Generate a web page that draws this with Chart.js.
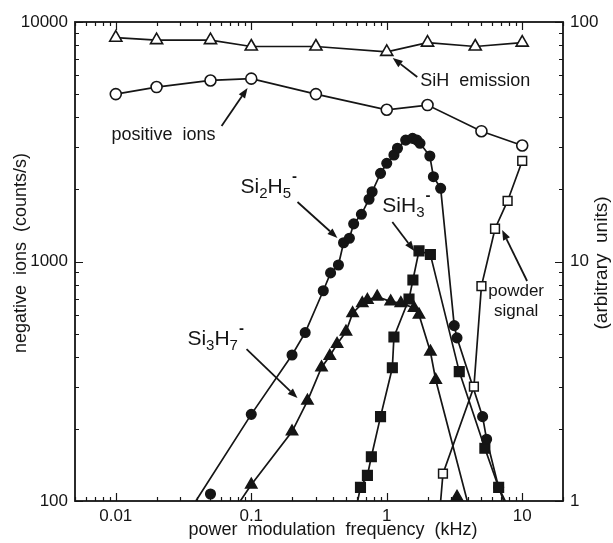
<!DOCTYPE html>
<html>
<head>
<meta charset="utf-8">
<script src="https://cdn.jsdelivr.net/npm/chart.js@4.4.0/dist/chart.umd.min.js"></script>
<style>
  html, body { margin: 0; padding: 0; background: #fff; }
</style>
</head>
<body>
<canvas id="modChart" width="613" height="543"></canvas>
<script>
// Signals vs. power modulation frequency (kHz), log-log

// SiH emission, arbitrary units (right axis)
const sihFreq = [0.01, 0.02, 0.05, 0.1, 0.3, 1, 2, 4.5, 10];
const sihEmission = [86, 84, 84, 79, 79, 75, 82, 79, 82];

// positive ions, arbitrary units (right axis)
const posFreq = [0.01, 0.02, 0.05, 0.1, 0.3, 1, 2, 5, 10];
const positiveIons = [50, 53.5, 57, 58, 50, 43, 45, 35, 30.5];

// Si2H5- negative ions, counts/s
const si2h5Freq = [0.05, 0.1, 0.2, 0.25, 0.34, 0.385, 0.44, 0.48, 0.53, 0.57, 0.65, 0.74, 0.78, 0.9, 1.0,
  1.13, 1.2, 1.38, 1.55, 1.67, 1.76, 2.08, 2.21, 2.5, 3.15, 3.3, 5.1, 5.46, 6.7];
const si2h5Counts = [107, 230, 407, 505, 755, 896, 967, 1198, 1250, 1436, 1574, 1820, 1955, 2334, 2570,
  2785, 2970, 3213, 3265, 3213, 3115, 2757, 2260, 2021, 540, 480, 225, 181, 114];
const si2h5Ends = [[0.039, 100], [7.5, 100]];

// Si3H7- negative ions, counts/s
const si3h7Freq = [0.1, 0.2, 0.26, 0.33, 0.38, 0.43, 0.5, 0.56, 0.66, 0.72, 0.85, 1.07, 1.27, 1.59, 1.73, 2.1, 2.3, 3.3];
const si3h7Counts = [117, 195, 262, 361, 403, 452, 509, 608, 669, 690, 713, 680, 670, 640, 600, 420, 320, 104];
const si3h7Ends = [[0.083, 100], [3.93, 100]];

// SiH3- negative ions, counts/s
const sih3Freq = [0.64, 0.72, 0.77, 0.9, 1.1, 1.13, 1.46, 1.56, 1.73, 2.1, 3.43, 5.3, 6.7];
const sih3Counts = [114, 128, 153, 225, 360, 484, 697, 837, 1107, 1069, 347, 166, 114];
const sih3Ends = [[0.61, 100], [7.3, 100]];

// powder signal, arbitrary units (right axis)
const powderFreq = [2.6, 4.4, 5, 6.3, 7.8, 10];
const powderSignal = [1.3, 3.0, 7.9, 13.7, 17.9, 26.3];
const powderStart = [2.5, 1];

const INK = '#151515';
const FONT = '"Liberation Sans", Arial, Helvetica, sans-serif';

const pairs = (xs, ys) => xs.map((x, i) => ({ x, y: ys[i] }));
const pt = p => ({ x: p[0], y: p[1] });
const isDecade = v => Math.abs(Math.log10(v) - Math.round(Math.log10(v))) < 1e-6;

function logTicks(min, max) {
  const out = [];
  for (let e = Math.floor(Math.log10(min)); e <= Math.ceil(Math.log10(max)); e++) {
    for (let m = 1; m <= 9; m++) {
      const v = +(m * Math.pow(10, e)).toPrecision(3);
      if (v >= min * 0.999 && v <= max * 1.001) out.push({ value: v });
    }
  }
  return out;
}

const markerBase = {
  showLine: false,
  pointBorderColor: INK,
  pointBorderWidth: 1.5
};
const lineBase = {
  showLine: true,
  pointRadius: 0,
  borderColor: INK,
  borderWidth: 1.7,
  order: 2
};

const datasets = [
  // open markers joined point to point
  { data: pairs(sihFreq, sihEmission), yAxisID: 'y2', showLine: true, borderColor: INK, borderWidth: 1.7,
    pointStyle: 'triangle', pointRadius: 7, pointBackgroundColor: '#fff', pointBorderColor: INK, pointBorderWidth: 1.6, order: 1 },
  { data: pairs(posFreq, positiveIons), yAxisID: 'y2', showLine: true, borderColor: INK, borderWidth: 1.7,
    pointStyle: 'circle', pointRadius: 5.5, pointBackgroundColor: '#fff', pointBorderColor: INK, pointBorderWidth: 1.6, order: 1 },

  // negative ion markers
  { ...markerBase, data: pairs(si2h5Freq, si2h5Counts), yAxisID: 'y', pointStyle: 'circle', pointRadius: 4.8, pointBackgroundColor: INK, order: 1 },
  { ...markerBase, data: pairs(si3h7Freq, si3h7Counts), yAxisID: 'y', pointStyle: 'triangle', pointRadius: 6.5, pointBackgroundColor: INK, order: 1 },
  { ...markerBase, data: pairs(sih3Freq, sih3Counts), yAxisID: 'y', pointStyle: 'rect', pointRadius: 6.8, pointBackgroundColor: INK, order: 1 },
  { ...markerBase, data: pairs(powderFreq, powderSignal), yAxisID: 'y2', pointStyle: 'rect', pointRadius: 6.2, pointBackgroundColor: '#fff', order: 0 },

  // drawn curves
  { ...lineBase, yAxisID: 'y',
    data: [pt(si2h5Ends[0]), ...pairs(si2h5Freq.slice(1), si2h5Counts.slice(1)), pt(si2h5Ends[1])] },
  { ...lineBase, yAxisID: 'y',
    data: [pt(si3h7Ends[0]), ...pairs(si3h7Freq.slice(0, -1), si3h7Counts.slice(0, -1)), pt(si3h7Ends[1])] },
  { ...lineBase, yAxisID: 'y',
    data: [pt(sih3Ends[0]), ...pairs(sih3Freq, sih3Counts), pt(sih3Ends[1])] },
  { ...lineBase, yAxisID: 'y2',
    data: [pt(powderStart), ...pairs(powderFreq, powderSignal)] }
];

// labels and arrows, placed in (kHz, counts/s) coordinates
const textNotes = [
  { text: 'SiH  emission', at: [1.77, 5673], align: 'left', size: 18 },
  { text: 'positive  ions', at: [0.0545, 3374], align: 'right', size: 18 },
  { text: 'powder', at: [9.02, 753], align: 'center', size: 17 },
  { text: 'signal', at: [9.02, 621], align: 'center', size: 17 }
];
const formulaNotes = [
  { parts: [['Si', 0], ['2', 1], ['H', 0], ['5', 1], ['-', 2]], at: [0.0834, 1932] },
  { parts: [['SiH', 0], ['3', 1], ['-', 2]], at: [0.928, 1609] },
  { parts: [['Si', 0], ['3', 1], ['H', 0], ['7', 1], ['-', 2]], at: [0.0338, 448] }
];
const arrowNotes = [
  [[1.68, 5893], [1.107, 7074]],
  [[0.0604, 3680], [0.0939, 5301]],
  [[0.2194, 1772], [0.4325, 1254]],
  [[1.0998, 1462], [1.597, 1106]],
  [[0.0923, 431], [0.2194, 269]],
  [[10.86, 829], [7.11, 1353]]
];

const tickFont = { family: FONT, size: 17 };

const frameTicks = {
  id: 'frameTicks',
  beforeDatasetsDraw(chart) {
    const { ctx, chartArea: a, scales } = chart;
    ctx.save();
    ctx.strokeStyle = INK;
    ctx.lineWidth = 1.2;
    ctx.beginPath();
    scales.x.ticks.forEach(t => {
      const px = Math.round(scales.x.getPixelForValue(t.value)) + 0.5;
      const len = isDecade(t.value) ? 8 : 4;
      ctx.moveTo(px, a.bottom); ctx.lineTo(px, a.bottom - len);
      ctx.moveTo(px, a.top); ctx.lineTo(px, a.top + len);
    });
    scales.y.ticks.forEach(t => {
      const py = Math.round(scales.y.getPixelForValue(t.value)) + 0.5;
      const len = isDecade(t.value) ? 8 : 4;
      ctx.moveTo(a.left, py); ctx.lineTo(a.left + len, py);
    });
    scales.y2.ticks.forEach(t => {
      const py = Math.round(scales.y2.getPixelForValue(t.value)) + 0.5;
      const len = isDecade(t.value) ? 8 : 4;
      ctx.moveTo(a.right, py); ctx.lineTo(a.right - len, py);
    });
    ctx.stroke();
    ctx.lineWidth = 1.8;
    ctx.strokeRect(a.left, a.top, a.right - a.left, a.bottom - a.top);
    ctx.restore();
  },
  afterDraw(chart) {
    const { ctx, scales } = chart;
    const toPx = p => [scales.x.getPixelForValue(p[0]), scales.y.getPixelForValue(p[1])];
    ctx.save();
    ctx.fillStyle = INK;
    ctx.strokeStyle = INK;

    // axis titles
    ctx.font = `18px ${FONT}`;
    ctx.textAlign = 'center';
    ctx.textBaseline = 'middle';
    ctx.fillText('power  modulation  frequency  (kHz)', 333, 530);
    ctx.save();
    ctx.translate(21, 253);
    ctx.rotate(-Math.PI / 2);
    ctx.fillText('negative  ions  (counts/s)', 0, 0);
    ctx.restore();
    ctx.save();
    ctx.font = `19px ${FONT}`;
    ctx.translate(602, 263);
    ctx.rotate(-Math.PI / 2);
    ctx.fillText('(arbitrary  units)', 0, 0);
    ctx.restore();

    // plain labels
    textNotes.forEach(n => {
      const [x, y] = toPx(n.at);
      ctx.font = `${n.size}px ${FONT}`;
      ctx.textAlign = n.align;
      ctx.textBaseline = 'middle';
      ctx.fillText(n.text, x, y);
    });

    // ion formulas with sub/superscripts
    ctx.textAlign = 'left';
    ctx.textBaseline = 'alphabetic';
    formulaNotes.forEach(n => {
      let [x, y] = toPx(n.at);
      n.parts.forEach(([s, kind]) => {
        if (kind === 0) {
          ctx.font = `21px ${FONT}`;
          ctx.fillText(s, x, y);
        } else if (kind === 1) {
          ctx.font = `15px ${FONT}`;
          ctx.fillText(s, x, y + 5);
        } else {
          ctx.font = `bold 15px ${FONT}`;
          ctx.fillText(s, x + 1, y - 12);
        }
        x += ctx.measureText(s).width;
      });
    });

    // arrows
    ctx.lineWidth = 1.8;
    arrowNotes.forEach(([from, to]) => {
      const [x0, y0] = toPx(from);
      const [x1, y1] = toPx(to);
      const ang = Math.atan2(y1 - y0, x1 - x0);
      const head = 10, half = 3.8;
      const bx = x1 - head * Math.cos(ang), by = y1 - head * Math.sin(ang);
      ctx.beginPath();
      ctx.moveTo(x0, y0);
      ctx.lineTo(bx, by);
      ctx.stroke();
      ctx.beginPath();
      ctx.moveTo(x1, y1);
      ctx.lineTo(bx + half * Math.sin(ang), by - half * Math.cos(ang));
      ctx.lineTo(bx - half * Math.sin(ang), by + half * Math.cos(ang));
      ctx.closePath();
      ctx.fill();
    });
    ctx.restore();
  }
};

const logAxis = (min, max, position, fit) => ({
  type: 'logarithmic',
  position,
  min,
  max,
  grid: { display: false, drawTicks: false },
  border: { display: false },
  ticks: {
    autoSkip: false,
    maxRotation: 0,
    font: tickFont,
    color: INK,
    padding: position === 'bottom' ? 5 : 7,
    callback: v => (isDecade(v) ? String(+v.toPrecision(1)) : '')
  },
  afterBuildTicks: s => { s.ticks = logTicks(min, max); },
  afterFit: fit
});

new Chart(document.getElementById('modChart'), {
  type: 'scatter',
  data: { datasets },
  options: {
    responsive: false,
    animation: false,
    events: [],
    layout: { padding: { top: 22, left: 0, right: 0, bottom: 0 } },
    plugins: { legend: { display: false }, tooltip: { enabled: false } },
    scales: {
      x: logAxis(0.005, 20, 'bottom', s => { s.height = 42; }),
      y: logAxis(100, 10000, 'left', s => { s.width = 75; }),
      y2: logAxis(1, 100, 'right', s => { s.width = 50; })
    }
  },
  plugins: [frameTicks]
});
</script>
</body>
</html>
